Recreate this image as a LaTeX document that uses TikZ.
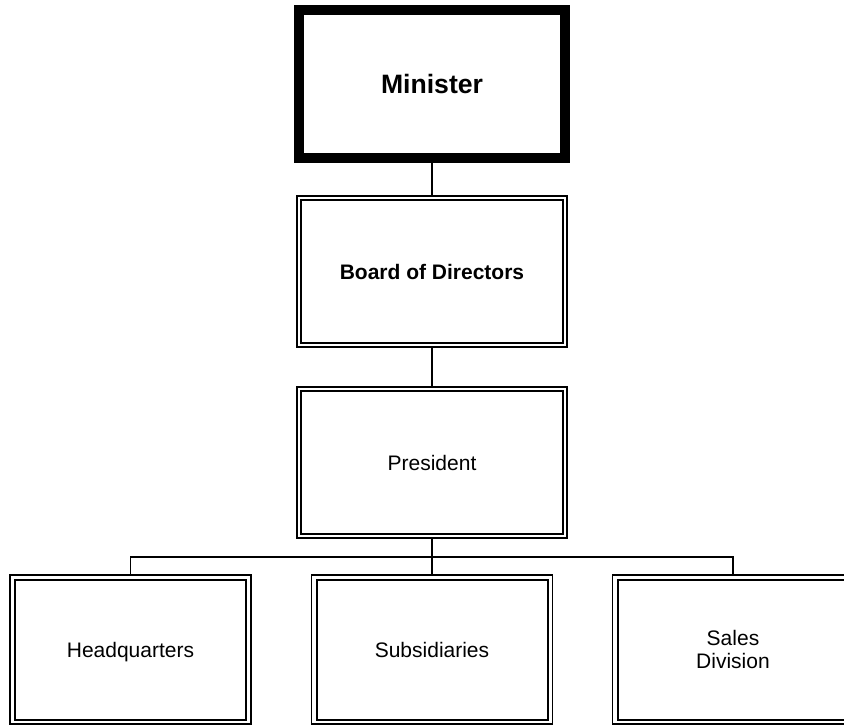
\documentclass[tikz,border=0pt]{standalone}
\usepackage{fontspec}
\setmainfont{Liberation Sans}
\begin{document}
\begin{tikzpicture}[x=1pt,y=-1pt,
  minbox/.style={draw, line width=9.5pt, line join=miter, outer sep=0pt, inner sep=0pt,
    minimum width=266pt, minimum height=148pt, text height=19pt, text depth=0pt,
    font=\fontsize{26.6}{30}\selectfont\bfseries},
  upbox/.style={draw, line width=2pt, outer sep=0pt, inner sep=0pt,
    minimum width=270pt, minimum height=151pt, text height=15pt, text depth=0pt},
  lowbox/.style={draw, line width=1.3pt, outer sep=0pt, inner sep=0pt,
    minimum width=241pt, minimum height=149pt, align=center,
    font=\fontsize{21}{23.5}\selectfont},
  oneline/.style={text height=15pt, text depth=0pt},
  upinner/.style={line width=2.5pt},
  lowinner/.style={line width=2pt},
  conn/.style={line width=1.5pt}
]
\useasboundingbox (0,0) rectangle (844,726);

\node[minbox] (min) at (432,84) {Minister};
\node[upbox, font=\fontsize{21}{24}\selectfont\bfseries] (bod) at (432,271.5) {Board of Directors};
\node[upbox, font=\fontsize{21}{24}\selectfont] (pres) at (432,462.5) {President};
\node[lowbox, oneline] (hq) at (130.5,649.5) {Headquarters};
\node[lowbox, oneline] (sub) at (432,649.5) {Subsidiaries};
\node[lowbox] (sd) at (733,649.5) {Sales\\Division};

\foreach \n in {bod,pres}
  \draw[upinner] ([shift={(4,4)}]\n.north west) rectangle ([shift={(-4,-4)}]\n.south east);
\foreach \n in {hq,sub,sd}
  \draw[lowinner] ([shift={(5,5)}]\n.north west) rectangle ([shift={(-5,-4)}]\n.south east);

\coordinate (bus) at (432,557);
\draw[conn] (min.south) -- (bod.north);
\draw[conn] (bod.south) -- (pres.north);
\draw[conn] (pres.south) -- (bus);
\draw[conn] (hq.north) |- (bus) -| (sd.north);
\draw[conn] (bus) -- (sub.north);
\end{tikzpicture}
\end{document}
